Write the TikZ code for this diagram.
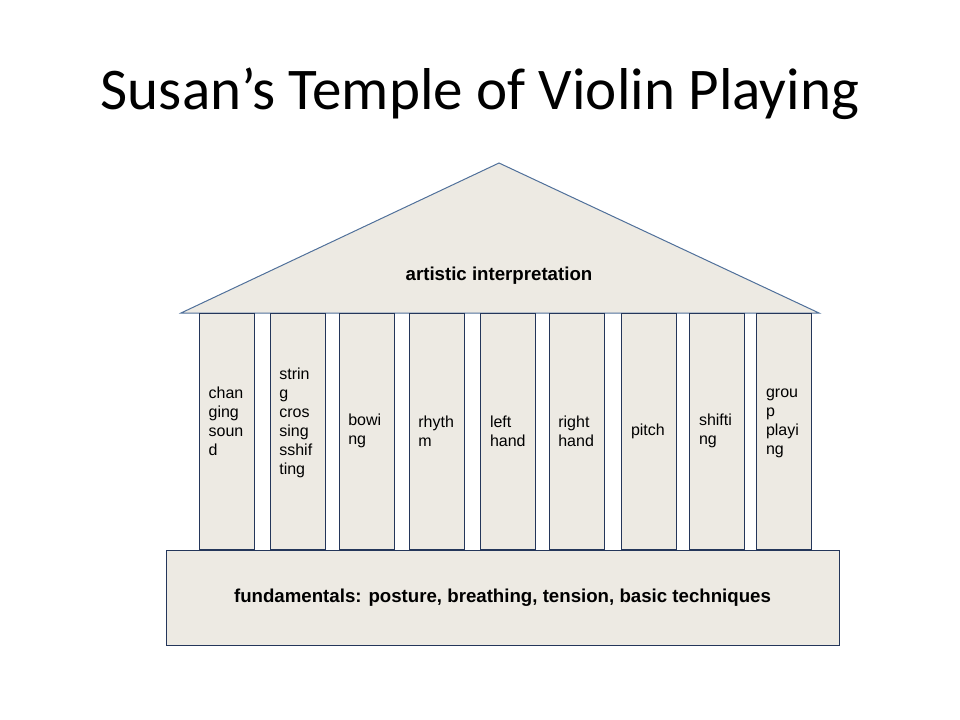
\documentclass[tikz,border=0pt]{standalone}
\usepackage{fontspec}
\setmainfont{Carlito}
\setsansfont{Liberation Sans}
\usepackage{xcolor}
\definecolor{stone}{HTML}{EDEAE3}
\definecolor{edge}{HTML}{24365A}
\definecolor{roofedge}{HTML}{50709A}

\begin{document}
\begin{tikzpicture}[x = .75pt, y = -.75pt, line width = .75pt,
  column/.style = {draw = edge, fill = stone, minimum width = 41.25pt, minimum height = 177pt,
    inner xsep = 7pt, text width = 27.25pt, align = left, font = \sffamily\fontsize{12}{14.3}\selectfont},
  caption/.style = {font = \sffamily\bfseries\fontsize{14}{16}\selectfont}]
\useasboundingbox (0,0) rectangle (960,720);
\node[anchor = base] (title) at (480,110) {\fontsize{44.3}{53}\selectfont Susan’s Temple of Violin Playing};

% roof
\draw[roofedge, fill = stone] (181,313) -- (499,163) -- (819,313) -- cycle;
\node[caption] (art) at (499,276) {artistic interpretation};

% columns
\node[column] (sound) at (226.8,431) {chan\\ging\\soun\\d\\\mbox{}};
\node[column] (cross) at (297.5,431) {strin\\g\\cros\\sing\\sshif\\ting\\\mbox{}};
\node[column] (bow) at (366.5,431) {bowi\\ng};
\node[column] (rhythm) at (436.5,431) {rhyth\\m};
\node[column] (left) at (508.2,431) {left\\hand};
\node[column] (right) at (576.5,431) {right\\hand};
\node[column] (pitch) at (649.2,431) {pitch};
\node[column] (shift) at (717.2,431) {shifti\\ng};
\node[column] (group) at (784.2,431) {grou\\p\\playi\\ng\\\mbox{}};

% base
\node[caption, draw = edge, fill = stone, minimum width = 504.75pt, minimum height = 71.25pt] (base) at (502.5,597.5)
  {fundamentals: posture, breathing, tension, basic techniques};
\end{tikzpicture}
\end{document}
